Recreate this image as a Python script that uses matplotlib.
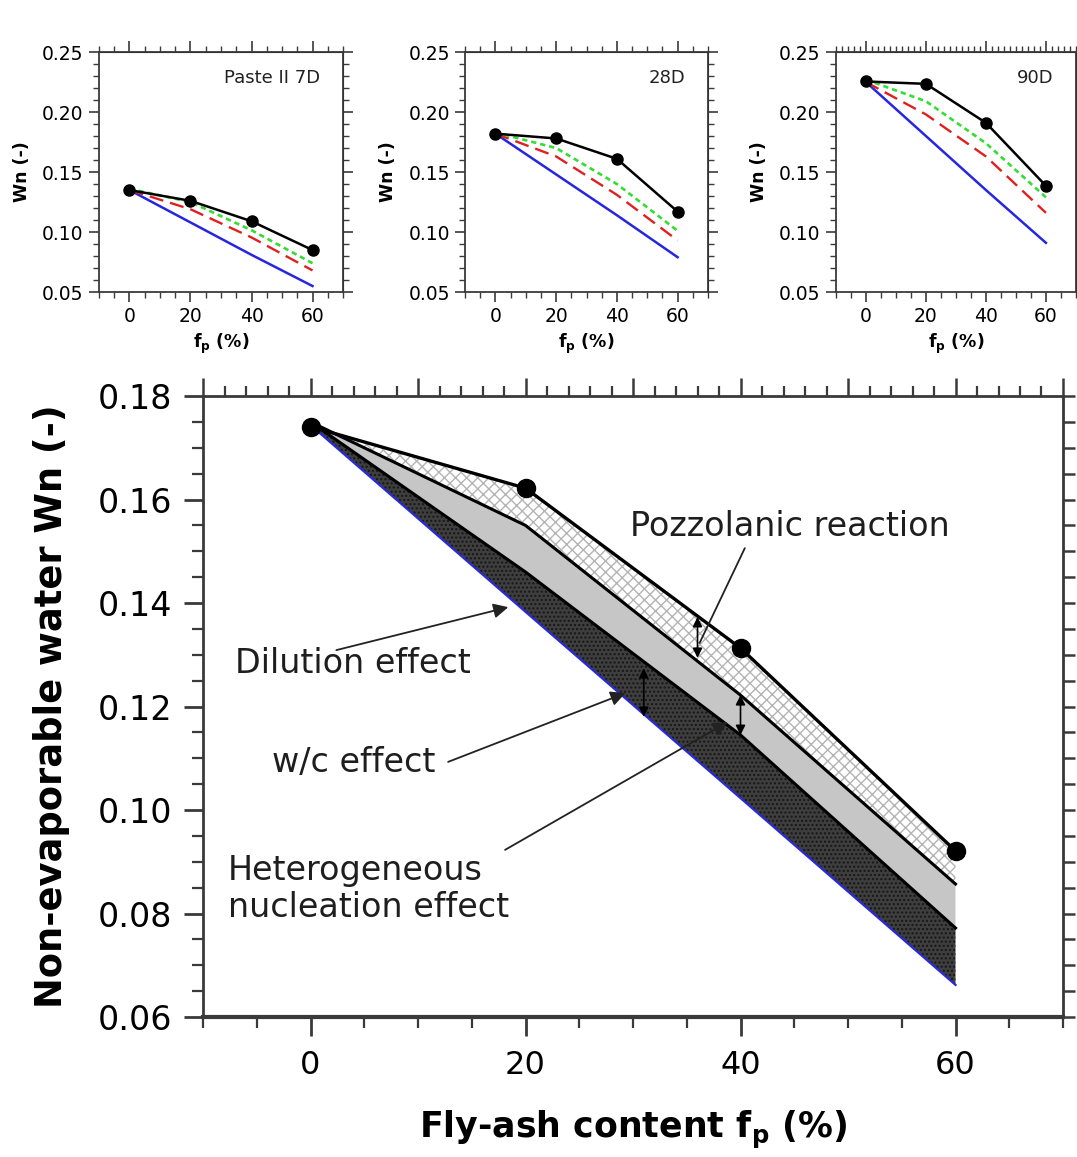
import matplotlib
matplotlib.use('Agg')
import matplotlib.pyplot as plt
from matplotlib.ticker import MultipleLocator

plt.rcParams['font.family'] = ['DejaVu Sans']
plt.rcParams['hatch.linewidth'] = 1.0

# small panels: fly-ash content and non-evaporable water at 7, 28, 90 days
fp_small = [0, 20, 40, 60]

wn_7d_exp = [0.135, 0.126, 0.109, 0.085]
wn_7d_green = [0.136, 0.125, 0.1015, 0.074]
wn_7d_red = [0.135, 0.119, 0.0955, 0.068]
wn_7d_blue = [0.135, 0.108, 0.081, 0.055]

wn_28d_exp = [0.182, 0.178, 0.161, 0.117]
wn_28d_green = [0.183, 0.170, 0.140, 0.101]
wn_28d_red = [0.182, 0.163, 0.131, 0.093]
wn_28d_blue = [0.182, 0.148, 0.114, 0.079]

wn_90d_exp = [0.2255, 0.2235, 0.191, 0.1385]
wn_90d_green = [0.227, 0.209, 0.174, 0.129]
wn_90d_red = [0.225, 0.198, 0.163, 0.116]
wn_90d_blue = [0.225, 0.180, 0.135, 0.091]

panel_titles = ['Paste II 7D', '28D', '90D']

# main panel
fp_main = [0, 20, 40, 60]
wn_exp = [0.1741, 0.1622, 0.1313, 0.0921]
wn_dilution = [0.1744, 0.1383, 0.1023, 0.0662]
wn_wc = [0.175, 0.146, 0.1145, 0.0772]
wn_nucleation = [0.175, 0.155, 0.1222, 0.0857]

spine_col = '#3a3a3a'

fig = plt.figure(figsize=(10.77, 11.57), dpi=100)


def small_panel(rect, exp, green, red, blue, title, dense_top=False):
    ax = fig.add_axes(rect)
    ax.plot(fp_small, blue, color='#2626e0', lw=1.8)
    ax.plot(fp_small, red, color='#e02020', lw=1.7, ls=(0, (6, 3)))
    ax.plot(fp_small, green, color='#33dd33', lw=1.9, ls=(0, (2, 1.5)))
    ax.plot(fp_small, exp, color='k', lw=1.8, marker='o', ms=8)
    ax.set_xlim(-10, 70)
    ax.set_ylim(0.05, 0.25)
    ax.xaxis.set_major_locator(MultipleLocator(20))
    ax.xaxis.set_minor_locator(MultipleLocator(5))
    ax.yaxis.set_major_locator(MultipleLocator(0.05))
    ax.yaxis.set_minor_locator(MultipleLocator(0.01))
    ax.tick_params(which='major', direction='out', length=7, width=1.2,
                   color=spine_col, labelsize=13.5, pad=4)
    ax.tick_params(which='minor', direction='out', length=4, width=1.0, color=spine_col)
    for s in ax.spines.values():
        s.set_color(spine_col)
        s.set_linewidth(1.3)
    top = ax.secondary_xaxis('top')
    top.xaxis.set_major_locator(MultipleLocator(20))
    if dense_top:
        top.xaxis.set_minor_locator(MultipleLocator(2))
    else:
        top.xaxis.set_minor_locator(MultipleLocator(5))
    top.tick_params(which='major', direction='out', length=8, width=1.2,
                    color=spine_col, labeltop=False)
    top.tick_params(which='minor', direction='out', length=4, width=1.0, color=spine_col)
    right = ax.secondary_yaxis('right')
    right.yaxis.set_major_locator(MultipleLocator(0.05))
    right.yaxis.set_minor_locator(MultipleLocator(0.01))
    right.tick_params(which='major', direction='out', length=7, width=1.2,
                      color=spine_col, labelright=False)
    right.tick_params(which='minor', direction='out', length=4, width=1.0, color=spine_col)
    ax.set_yticks([0.05, 0.10, 0.15, 0.20, 0.25])
    ax.set_yticklabels(['0.05', '0.10', '0.15', '0.20', '0.25'])
    ax.set_ylabel('Wn (-)', fontsize=12.5, fontweight='bold', labelpad=8)
    ax.set_xlabel(r'f$_\mathbf{p}$ (%)', fontsize=12.5, fontweight='bold', labelpad=4)
    ax.text(0.905, 0.89, title, transform=ax.transAxes, ha='right', va='center',
            fontsize=13, color='#222222')
    return ax


small_panel([0.0919, 0.7476, 0.2266, 0.2074], wn_7d_exp, wn_7d_green, wn_7d_red,
            wn_7d_blue, panel_titles[0])
small_panel([0.4318, 0.7476, 0.2256, 0.2074], wn_28d_exp, wn_28d_green, wn_28d_red,
            wn_28d_blue, panel_titles[1])
small_panel([0.7762, 0.7476, 0.2228, 0.2074], wn_90d_exp, wn_90d_green, wn_90d_red,
            wn_90d_blue, panel_titles[2], dense_top=True)

# big panel
ax = fig.add_axes([0.1885, 0.1210, 0.7985, 0.5367])
ax.fill_between(fp_main, wn_dilution, wn_wc, facecolor='#3e3e3e', edgecolor='#161616',
                hatch='....', lw=0, zorder=1)
ax.fill_between(fp_main, wn_wc, wn_nucleation, facecolor='#c6c6c6', lw=0, zorder=1)
ax.fill_between(fp_main, wn_nucleation, wn_exp, facecolor='white', edgecolor='#b4b4b4',
                hatch='xxx', lw=0, zorder=1)
ax.plot(fp_main, wn_wc, color='k', lw=2.2, zorder=3)
ax.plot(fp_main, wn_nucleation, color='k', lw=2.2, zorder=3)
ax.plot(fp_main, wn_dilution, color='#2a2ad8', lw=1.6, zorder=3)
ax.plot(fp_main, wn_exp, color='k', lw=2.4, marker='o', ms=13, zorder=4)

ax.set_xlim(-10, 70)
ax.set_ylim(0.06, 0.18)
ax.xaxis.set_major_locator(MultipleLocator(20))
ax.xaxis.set_minor_locator(MultipleLocator(5))
ax.yaxis.set_major_locator(MultipleLocator(0.02))
ax.yaxis.set_minor_locator(MultipleLocator(0.005))
ax.set_yticks([0.06, 0.08, 0.10, 0.12, 0.14, 0.16, 0.18])
ax.set_yticklabels(['0.06', '0.08', '0.10', '0.12', '0.14', '0.16', '0.18'])
ax.tick_params(axis='y', which='major', direction='out', length=14, width=2,
               color=spine_col, labelsize=24, pad=8)
ax.tick_params(axis='y', which='minor', direction='out', length=8, width=1.6, color=spine_col)
ax.tick_params(axis='x', which='major', direction='out', length=14, width=2,
               color=spine_col, labelsize=23, pad=10)
ax.tick_params(axis='x', which='minor', direction='out', length=8, width=1.6, color=spine_col)
for s in ax.spines.values():
    s.set_color(spine_col)
    s.set_linewidth(2)
ax.spines['bottom'].set_linewidth(3)

top = ax.secondary_xaxis('top')
top.xaxis.set_major_locator(MultipleLocator(10))
top.xaxis.set_minor_locator(MultipleLocator(2))
top.tick_params(which='major', direction='out', length=13, width=1.8, color=spine_col,
                labeltop=False)
top.tick_params(which='minor', direction='out', length=7, width=1.6, color=spine_col)
right = ax.secondary_yaxis('right')
right.yaxis.set_major_locator(MultipleLocator(0.005))
right.tick_params(which='major', direction='out', length=8.5, width=1.8, color=spine_col,
                  labelright=False)

ax.set_ylabel('Non-evaporable water Wn (-)', fontsize=26.5, fontweight='bold', labelpad=20)
ax.set_xlabel(r'Fly-ash content f$_\mathbf{p}$ (%)', fontsize=25, fontweight='bold',
              labelpad=20)

txt_kw = dict(fontsize=24, color='#1e1e1e', va='center', ha='left', zorder=6)
ax.text(29.7, 0.1547, 'Pozzolanic reaction', **txt_kw)
ax.text(-7.0, 0.1284, 'Dilution effect', **txt_kw)
ax.text(-3.6, 0.1091, 'w/c effect', **txt_kw)
ax.text(-7.7, 0.0847, 'Heterogeneous\nnucleation effect', linespacing=1.15, **txt_kw)

pointer = dict(arrowstyle='-|>', color='#222222', lw=1.3, mutation_scale=22,
               shrinkA=0, shrinkB=0)
ax.annotate('', xy=(18.4, 0.1392), xytext=(2.4, 0.1309), arrowprops=pointer, zorder=6)
ax.annotate('', xy=(29.3, 0.1226), xytext=(12.8, 0.1093), arrowprops=pointer, zorder=6)
ax.annotate('', xy=(38.8, 0.1170), xytext=(18.1, 0.0923), arrowprops=pointer, zorder=6)
ax.annotate('', xy=(36.2, 0.1323), xytext=(40.4, 0.1506),
            arrowprops=dict(arrowstyle='-', color='#222222', lw=1.3, shrinkA=0, shrinkB=0),
            zorder=6)

both = dict(arrowstyle='<|-|>', color='k', lw=1.2, mutation_scale=14, shrinkA=0, shrinkB=0)
ax.annotate('', xy=(36.0, 0.1373), xytext=(36.0, 0.1294), arrowprops=both, zorder=6)
ax.annotate('', xy=(40.0, 0.1222), xytext=(40.0, 0.1145), arrowprops=both, zorder=6)
ax.annotate('', xy=(31.0, 0.1274), xytext=(31.0, 0.1180), arrowprops=both, zorder=6)

fig.savefig('out.png', dpi=100)
